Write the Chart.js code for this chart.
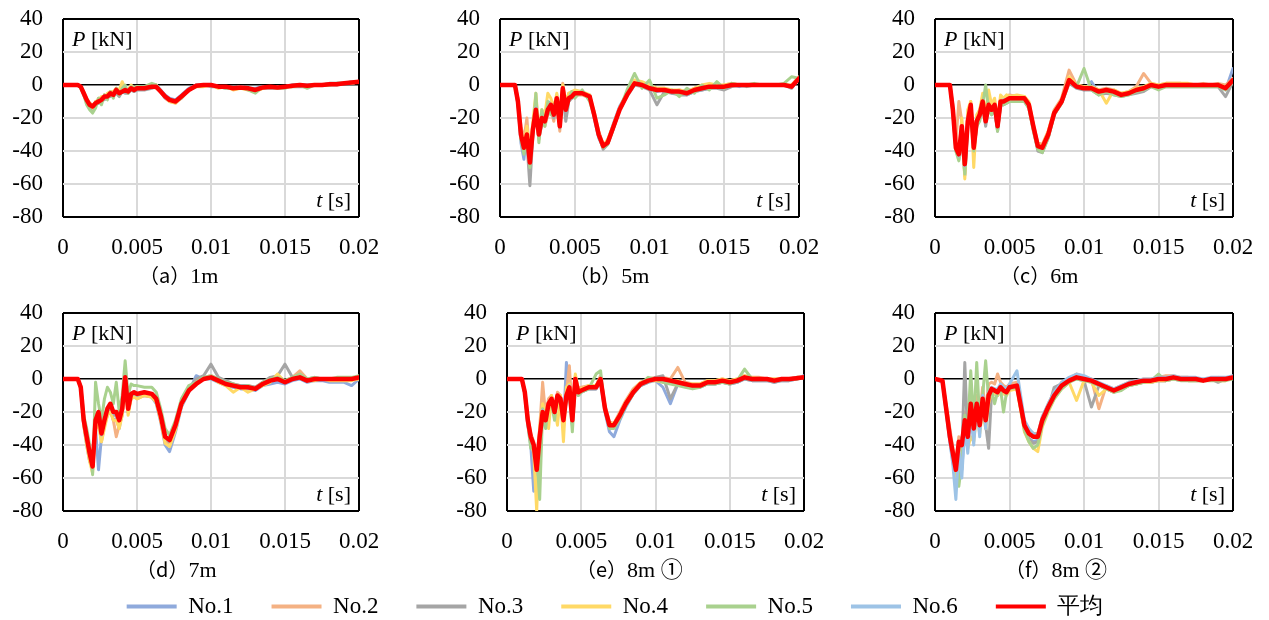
<!DOCTYPE html>
<html><head><meta charset="utf-8">
<script src="https://cdn.jsdelivr.net/npm/chart.js@4.4.1/dist/chart.umd.min.js"></script>
<style>
html,body{margin:0;padding:0;background:#fff;}
body{width:1269px;height:620px;position:relative;overflow:hidden;}
canvas{position:absolute;}
</style>
</head><body>
<script>
// ---------- data ----------
const T = [0,0.0005,0.001,0.0012,0.0014,0.0016,0.0018,0.002,0.0022,0.0024,0.0026,0.0028,0.003,0.0032,0.0034,0.0036,0.0038,0.004,0.0042,0.0044,0.0046,0.0048,0.005,0.0055,0.006,0.0063,0.0066,0.0069,0.0072,0.0076,0.008,0.0085,0.009,0.0095,0.01,0.0105,0.011,0.0115,0.012,0.0125,0.013,0.0135,0.014,0.0145,0.015,0.0155,0.016,0.0165,0.017,0.0175,0.018,0.0185,0.019,0.0195,0.02];
const seriesNames = ['No.1','No.2','No.3','No.4','No.5','No.6','平均'];
const seriesColors = ['#8faadc','#f4b183','#a5a5a5','#ffd966','#a9d18e','#9dc3e6','#ff0000'];
const xTickLabels = ['0','0.005','0.01','0.015','0.02'];
const yTickLabels = ['-80','-60','-40','-20','0','20','40'];
const panelLetters = ['a','b','c','d','e','f'];
const panelNames = ['1m','5m','6m','7m','8m ①','8m ②'];

// (a) 1m
const a1 = [0,0,0,-1,-6,-10,-13,-14,-10,-11,-8,-8,-6,-6,-5,-4,-6,-3,-4,-3,-3,-2,-2,-1,-1,0,-3,-6,-8,-9,-6,-2,0,0,0,-1,-1,-2,-1,-2,-2,-1,-1,-1,-1,0,0,0,0,0,0,1,1,1,2];
const a2 = [0,0,0,-1,-4,-8,-11,-12,-12,-8,-10,-6,-8,-4,-7,-2,-6,-3,-2,-5,-1,-3,-2,-2,-1,-2,-4,-8,-10,-11,-8,-3,0,0,0,-1,-1,-2,-2,-2,-3,-2,-1,-2,-1,-1,0,-1,0,0,1,1,1,2,2];
const a3 = [0,0,0,-1,-5,-9,-12,-15,-12,-11,-9,-9,-7,-7,-6,-5,-7,-4,-5,-5,-3,-4,-3,-3,-2,-1,-4,-7,-9,-10,-7,-3,-1,0,-1,-1,-2,-2,-2,-2,-3,-2,-2,-2,-1,-1,-1,-1,0,0,0,0,1,1,2];
const a4 = [0,0,0,-1,-5,-9,-11,-14,-10,-9,-7,-8,-5,-4,-4,-2,-3,2,-2,-3,0,-2,-1,-2,-1,0,-4,-7,-10,-11,-7,-3,-1,-1,0,-2,-1,-3,-2,-3,-4,-2,-1,-2,-1,-1,0,-1,0,0,0,1,1,1,2];
const a5 = [0,0,0,-2,-6,-12,-15,-17,-14,-8,-12,-6,-9,-4,-8,-2,-6,-2,0,-5,-1,-2,-1,-1,1,0,-4,-7,-9,-10,-8,-3,-1,0,0,-1,-2,-2,-1,-3,-5,-1,-1,-2,-2,0,0,-2,0,0,0,1,1,1,2];
const a6 = [0,0,0,-1,-5,-9,-12,-13,-11,-10,-9,-7,-7,-5,-6,-3,-5,-4,-3,-4,-2,-3,-2,-2,-1,-1,-4,-8,-9,-10,-7,-3,0,0,0,-1,-1,-2,-1,-2,-3,-1,-1,-1,-1,0,0,0,0,0,1,1,1,2,2];
const aAvg = [0,0,0,-1,-5,-9,-12,-13,-11,-10,-9,-7,-7,-5,-6,-3,-5,-4,-3,-4,-2,-3,-2,-2,-1,-1,-4,-7,-9,-10,-7,-3,-0.5,0,0,-1,-1,-2,-1.5,-2,-3,-1.5,-1,-1.5,-1,-0.5,0,-0.5,0,0,0.5,0.5,1,1.5,2];

// (b) 5m
const b1 = [0,0,0,-12,-35,-45,-28,-44,-25,-12,-28,-18,-20,-12,-10,-16,-6,-22,0,-12,-6,-5,-4,-5,-6,-20,-32,-38,-34,-23,-13,-5,2,0,-2,-4,-3,-5,-5,-6,-4,-3,-2,-1,-1,0,-1,0,0,0,0,0,0,-1,4];
const b2 = [0,0,0,-8,-25,-33,-20,-45,-25,-18,-33,-22,-25,-18,-15,-22,-10,-28,1,-18,-5,-8,-6,-6,-8,-16,-28,-36,-34,-24,-14,-5,2,1,-1,-2,-2,-4,-3,-4,-2,-1,0,-1,0,1,0,0,0,0,0,0,0,0,5];
const b3 = [0,0,0,-10,-32,-40,-35,-61,-30,-16,-32,-24,-22,-16,-14,-20,-10,-26,-4,-22,-10,-8,-6,-5,-7,-18,-30,-39,-36,-26,-15,-7,0,-1,-3,-12,-4,-5,-6,-6,-4,-3,-2,-2,-3,-1,0,-1,0,0,0,0,0,-2,4];
const b4 = [0,0,0,-9,-28,-36,-25,-40,-22,-5,-28,-15,-18,-5,-8,-14,-5,-20,0,-10,-5,-4,-3,-4,-6,-17,-29,-37,-33,-24,-14,-5,3,2,0,-2,-2,-3,-3,-4,-2,0,1,0,0,1,0,0,0,0,0,0,0,0,4];
const b5 = [0,0,0,-11,-33,-42,-30,-50,-30,-5,-35,-15,-25,-10,-18,-12,-15,-20,-5,-12,-8,-4,-8,-3,-10,-19,-31,-38,-36,-26,-15,-3,7,-2,3,-8,-6,-3,-7,-2,-5,0,-3,2,-2,1,0,0,1,0,0,0,1,5,4];
const b6 = [0,0,0,-10,-30,-38,-30,-47,-28,-14,-30,-20,-22,-14,-12,-18,-8,-24,-2,-15,-8,-7,-5,-5,-7,-18,-30,-37,-35,-25,-15,-6,1,0,-2,-3,-3,-4,-4,-5,-3,-2,-1,-1,-1,0,0,0,0,0,0,0,0,-1,4];
const bAvg = [0,0,0,-10,-30,-38,-30,-47,-27,-15,-30,-20,-22,-15,-12,-18,-8,-25,-2,-15,-8,-7,-5,-5,-7,-18,-30,-37,-35,-25,-15,-6,1,0,-2,-3,-3,-4,-4,-5,-3,-2,-1,-1,-1,0,0,0,0,0,0,0,0,-1,4];

// (c) 6m
const c1 = [0,0,0,-14,-36,-45,-28,-50,-20,-14,-40,-20,-20,-12,-20,-14,-13,-15,-27,-12,-12,-10,-9,-9,-9,-13,-26,-38,-39,-31,-18,-9,2,-1,-3,2,-5,-4,-5,-6,-5,-4,-2,0,-2,0,0,0,0,0,0,0,0,-3,10];
const c2 = [0,0,0,-12,-35,-10,-22,-45,-20,-10,-35,-20,-15,-8,-20,-10,-12,-10,-22,-8,-8,-7,-6,-7,-7,-11,-24,-35,-36,-28,-15,-8,9,0,-1,-1,-3,-2,-3,-5,-4,-1,7,1,0,1,1,1,0,0,1,0,1,0,4];
const c3 = [0,0,0,-16,-40,-44,-30,-55,-25,-14,-40,-25,-20,-12,-25,-14,-18,-14,-28,-12,-12,-11,-10,-10,-10,-14,-27,-40,-41,-32,-18,-11,1,-2,-3,-3,-6,-5,-6,-7,-6,-5,-4,-1,-2,-1,-1,-1,-1,-1,-1,-1,-1,-7,2];
const c4 = [0,0,0,-15,-39,-43,-20,-57,-15,-10,-50,-18,-15,-5,-18,-3,-12,-8,-22,-6,-8,-6,-7,-6,-7,-10,-24,-36,-37,-28,-16,-9,5,0,-1,-1,-3,-11,-3,-5,-4,-2,-1,1,0,1,1,1,1,0,0,0,0,-1,3];
const c5 = [0,0,0,-17,-40,-46,-30,-54,-24,-14,-40,-25,-22,-12,0,-15,-18,-14,-28,-12,-12,-11,-10,-10,-10,-14,-28,-39,-41,-32,-18,-11,2,-1,10,-3,-6,-4,-6,-7,-6,-4,-3,-1,-3,-1,-1,-1,-1,-1,-1,-1,-1,-3,2];
const c6 = [0,0,0,-15,-37,-43,-26,-49,-21,-12,-37,-22,-17,-10,-21,-12,-14,-12,-24,-10,-9,-9,-8,-8,-8,-12,-25,-37,-38,-30,-17,-10,3,-1,-2,-2,-4,-3,-4,-6,-5,-3,-2,0,-1,0,0,0,0,0,0,0,0,-2,3];
const cAvg = [0,0,0,-15,-38,-42,-25,-48,-22,-12,-38,-22,-18,-10,-22,-12,-15,-12,-25,-10,-10,-9,-8,-8,-8,-12,-25,-37,-38,-30,-17,-10,3,-1,-2,-2,-4,-3,-4,-6,-5,-3,-2,0,-1,0,0,0,0,0,0,0,0,-2,3];

// (d) 7m
const d1 = [0,0,0,-6,-28,-40,-50,-52,-30,-55,-35,-28,-20,-18,-25,-24,-30,-20,-2,-20,-11,-10,-11,-10,-11,-15,-26,-40,-44,-32,-17,-8,2,0,0,-2,-4,-5,-6,-6,-7,-4,-3,-2,-3,-1,0,-2,-1,-1,-2,-2,-2,-4,0];
const d2 = [0,0,0,-5,-27,-38,-48,-55,-28,-22,-38,-28,-22,-18,-25,-35,-28,-22,-2,-20,-12,-10,-12,-10,-11,-14,-25,-38,-40,-30,-16,-6,-2,1,2,0,-2,-3,-4,-4,-5,-2,0,2,-1,1,5,0,0,0,0,0,0,0,1];
const d3 = [0,0,0,-5,-26,-37,-47,-54,-27,-22,-35,-27,-20,-16,-22,-22,-27,-20,-1,-20,-10,-9,-10,-9,-10,-13,-23,-36,-38,-29,-15,-6,0,2,9,1,-1,-3,-4,-4,-5,-2,1,2,9,1,2,0,1,0,0,0,0,0,1];
const d4 = [0,0,0,-6,-28,-40,-50,-57,-30,-28,-38,-30,-22,-20,-25,-25,-30,-22,-3,-22,-12,-11,-12,-10,-11,-14,-25,-39,-41,-31,-16,-7,-2,0,1,-2,-4,-8,-5,-8,-6,-4,-2,3,-2,0,1,-1,-1,0,-1,-1,-1,-1,0];
const d5 = [0,0,0,-4,-22,-30,-40,-58,-2,-15,-25,-12,-5,-8,-15,-2,-20,-10,11,-10,-3,-4,-4,-5,-5,-8,-18,-30,-34,-25,-12,-4,-2,1,2,0,-2,-3,-5,-4,-6,-2,0,1,-1,1,3,0,1,0,0,1,1,1,2];
const d6 = [0,0,0,-5,-26,-36,-46,-52,-26,-21,-34,-25,-19,-15,-21,-20,-24,-18,0,-17,-9,-8,-9,-8,-9,-12,-22,-35,-37,-28,-15,-7,-3,0,1,-1,-3,-4,-5,-5,-6,-3,-1,0,-2,0,1,-1,0,0,0,0,0,0,1];
const dAvg = [0,0,0,-5,-25,-35,-45,-53,-25,-20,-33,-25,-18,-15,-20,-20,-25,-18,1,-18,-9,-8,-9,-8,-9,-12,-22,-35,-37,-28,-15,-7,-3,0,1,-1,-3,-4,-5,-5,-6,-3,-1,0,-2,0,1,-1,0,0,0,0,0,0,1];

// (e) 8m ①
const e1 = [0,0,0,-9,-28,-40,-68,-60,-40,-25,-28,-18,-15,-22,-12,-15,-30,10,-8,-28,-2,-10,-8,-6,-6,-2,-20,-32,-35,-25,-17,-9,-4,-2,-1,-5,-15,-3,-4,-5,-5,-3,-3,-2,-3,-2,0,-1,-1,-1,-2,-1,-1,0,2];
const e2 = [0,0,0,-7,-22,-33,-38,-50,-30,-2,-22,-12,-10,-18,-8,-10,-22,-8,8,-22,2,-6,-5,-4,-4,2,-16,-26,-27,-20,-13,-6,-2,0,1,1,0,7,-2,-3,-3,-1,-1,0,-1,0,2,1,1,0,0,0,0,1,1];
const e3 = [0,0,0,-8,-26,-36,-42,-58,-37,-22,-27,-17,-14,-22,-12,-14,-27,-12,-7,-27,-2,-9,-8,-6,-6,-1,-19,-29,-29,-23,-16,-9,-4,-2,1,2,-12,-3,-4,-5,-5,-3,-3,-2,-3,-2,0,-1,-1,-1,-2,-1,-1,0,1];
const e4 = [0,0,0,-8,-25,-38,-45,-80,-30,-15,-22,-30,-10,-18,-28,-10,-38,-5,-3,-20,3,-6,-6,-4,-4,1,-17,-27,-27,-21,-14,-7,-2,-1,-1,-2,-2,-1,-3,-3,-3,-1,-1,0,-1,0,2,1,0,0,0,0,0,1,1];
const e5 = [0,0,0,-9,-27,-42,-40,-45,-73,-18,-30,-15,-15,-25,-10,-15,-25,-12,-8,-32,-3,-10,-8,-6,3,5,-19,-30,-30,-24,-16,-9,-3,1,0,-2,-3,-4,-5,-6,-5,-3,-3,-2,-3,-1,6,0,0,0,-1,0,0,0,1];
const e6 = [0,0,0,-8,-25,-36,-41,-54,-34,-19,-24,-15,-12,-19,-10,-12,-24,-10,-4,-24,0,-8,-7,-5,-5,0,-18,-28,-28,-22,-15,-8,-3,-1,0,0,-1,-2,-3,-4,-4,-2,-2,-1,-2,-1,1,0,0,0,-1,0,0,1,1];
const eAvg = [0,0,0,-8,-25,-35,-40,-55,-35,-20,-25,-15,-12,-20,-10,-12,-25,-10,-5,-25,0,-8,-7,-5,-5,0,-18,-28,-28,-22,-15,-8,-3,-1,0,0,-1,-2,-3,-4,-4,-2,-2,-1,-2,-1,1,0,0,0,-1,0,0,0.5,1];

// (f) 8m ②
const f1 = [0,-2,-38,-50,-62,-45,-55,-30,-40,-20,-35,-18,-30,-15,-28,-12,-8,-9,-10,-7,-8,-9,-6,-5,-30,-36,-38,-37,-27,-18,-11,-5,-2,1,0,-2,-4,-6,-8,-6,-4,-3,-2,-2,-1,-1,0,0,-1,-1,-1,0,-1,0,1];
const f2 = [0,-1,-30,-42,-50,-35,-38,-20,-30,-8,-25,-10,-22,-5,-20,-3,-2,-3,3,-2,-4,-5,-3,-2,-26,-31,-33,-33,-23,-15,-8,-2,0,3,1,0,-18,-4,-6,-4,-2,-1,0,0,1,2,2,1,1,0,0,0,1,0,1];
const f3 = [0,-1,-33,-45,-57,-40,-45,10,-38,-18,-32,-17,-30,-14,-28,-42,-8,-8,-10,-6,-8,-9,-6,-5,-30,-36,-39,-38,-27,-18,-5,-3,0,0,-1,-17,-4,-6,-8,-6,-4,-3,-2,-2,-1,-1,0,-1,0,0,-1,0,-2,0,1];
const f4 = [0,-1,-34,-48,-60,-42,-45,-28,-42,-35,-38,-20,-33,-18,-30,-15,-8,-9,-10,-7,-9,-10,-7,-6,-32,-38,-42,-44,-29,-20,-12,-6,-2,-13,-1,-2,-10,-6,-8,-6,-4,-3,-2,-2,-1,-1,0,0,-1,-1,-1,0,-1,-1,1];
const f5 = [0,-1,-36,-46,-52,-65,-50,-22,-30,5,-28,10,-25,-10,11,-12,-7,-15,-8,-6,-20,-8,-6,-5,-31,-38,-42,-40,-28,-19,-12,-6,-2,0,-1,-2,-4,-6,-8,-7,-4,-3,-2,-1,3,-1,0,-1,-1,-1,-1,-1,-1,-1,0];
const f6 = [0,-1,-38,-52,-73,-42,-60,-28,-45,-20,-40,-15,-35,-10,-30,-8,-5,-6,-6,-3,-5,-6,-3,5,-25,-30,-33,-34,-23,-15,-8,-2,1,3,2,0,-2,-4,-6,-4,-2,-1,0,0,1,1,2,1,1,1,0,1,1,1,2];
const fAvg = [0,-1,-35,-45,-55,-38,-40,-25,-35,-15,-30,-15,-28,-12,-25,-10,-6,-7,-8,-5,-7,-8,-5,-4,-28,-33,-35,-35,-25,-17,-10,-4,-1,1,0,-1,-3,-5,-7,-5,-3,-2,-1,-1,0,0,1,0,0,0,-1,0,0,0,1];

const panelSeries = [
  [a1,a2,a3,a4,a5,a6,aAvg],
  [b1,b2,b3,b4,b5,b6,bAvg],
  [c1,c2,c3,c4,c5,c6,cAvg],
  [d1,d2,d3,d4,d5,d6,dAvg],
  [e1,e2,e3,e4,e5,e6,eAvg],
  [f1,f2,f3,f4,f5,f6,fAvg]
];
panelSeries.forEach((ps, k) => ps.forEach((arr, i) => {
  if (arr.length !== T.length) throw new Error('panel ' + k + ' series ' + i + ' length ' + arr.length);
}));

// ---------- layout (page pixels) ----------
const panelsLayout = [
  {left:63,  right:359,  top:19,  bottom:217, titleLeft:139},
  {left:500, right:799,  top:19,  bottom:217, titleLeft:569},
  {left:935, right:1233, top:19,  bottom:217, titleLeft:1000},
  {left:63,  right:359,  top:313, bottom:511, titleLeft:136},
  {left:507, right:804,  top:313, bottom:511, titleLeft:576},
  {left:935, right:1233, top:313, bottom:511, titleLeft:1005}
];
const PAD_L = 70, PAD_T = 38, PAD_R = 42, PAD_B = 80;
const SERIF = "'Liberation Serif', 'Times New Roman', serif";
const TICK_SIZE = 23;

Chart.defaults.font.family = SERIF;
Chart.defaults.font.size = TICK_SIZE;
Chart.defaults.color = '#000';

const near = (a, b) => Math.abs(a - b) < 1e-9;

const panelText = {
  id: 'panelText',
  afterDraw(chart, args, o) {
    const ctx = chart.ctx, ca = chart.chartArea;
    ctx.save();
    ctx.fillStyle = '#000';
    ctx.textBaseline = 'alphabetic';
    ctx.textAlign = 'left';
    // P [kN]
    let x = ca.left + 9;
    const yb = ca.top + 27;
    ctx.font = "italic 22px " + SERIF;
    ctx.fillText('P', x, yb);
    x += ctx.measureText('P').width;
    ctx.font = "22px " + SERIF;
    ctx.fillText(' [kN]', x, yb);
    // t [s]
    ctx.font = "22px " + SERIF;
    const w2 = ctx.measureText(' [s]').width;
    ctx.font = "italic 22px " + SERIF;
    const w1 = ctx.measureText('t').width;
    const xr = ca.right - 8 - w2 - w1;
    const yb2 = ca.bottom - 10;
    ctx.fillText('t', xr, yb2);
    ctx.font = "22px " + SERIF;
    ctx.fillText(' [s]', xr + w1, yb2);
    // panel caption
    let tx = o.titleX;
    const ty = ca.bottom + 66;
    ctx.font = "20px 'Noto Sans CJK JP'";
    const p1 = '（' + o.letter + '）';
    ctx.fillText(p1, tx, ty);
    tx += ctx.measureText(p1).width;
    ctx.font = "22px 'Liberation Serif', 'Noto Sans CJK JP', serif";
    ctx.fillText(o.name, tx, ty);
    ctx.restore();
  }
};

panelsLayout.forEach((p, k) => {
  const plotW = p.right - p.left, plotH = p.bottom - p.top;
  const W = plotW + PAD_L + PAD_R, H = plotH + PAD_T + PAD_B;
  const cv = document.createElement('canvas');
  cv.width = W; cv.height = H;
  cv.style.left = (p.left - PAD_L) + 'px';
  cv.style.top = (p.top - PAD_T) + 'px';
  cv.style.width = W + 'px'; cv.style.height = H + 'px';
  document.body.appendChild(cv);

  const datasets = panelSeries[k].map((vals, i) => ({
    label: seriesNames[i],
    data: T.map((t, j) => ({x: t, y: vals[j]})),
    borderColor: seriesColors[i],
    backgroundColor: seriesColors[i],
    borderWidth: i === 6 ? 4.5 : 3,
    pointRadius: 0,
    tension: 0,
    fill: false,
    borderJoinStyle: 'round',
    borderCapStyle: 'round',
    order: i === 6 ? 0 : 6 - i
  }));

  new Chart(cv, {
    type: 'line',
    data: {datasets},
    options: {
      responsive: false,
      animation: false,
      devicePixelRatio: 1,
      events: [],
      layout: {padding: {left: 0, top: PAD_T, right: PAD_R, bottom: 0}},
      plugins: {
        legend: {display: false},
        tooltip: {enabled: false},
        panelText: {letter: panelLetters[k], name: panelNames[k], titleX: p.titleLeft - (p.left - PAD_L)}
      },
      scales: {
        x: {
          type: 'linear', min: 0, max: 0.02,
          afterFit(s) { s.height = PAD_B; },
          border: {display: false},
          grid: {
            drawTicks: false,
            color: c => (c.tick && (near(c.tick.value, 0) || near(c.tick.value, 0.02))) ? '#000' : '#d9d9d9',
            lineWidth: 2
          },
          ticks: {
            stepSize: 0.005, padding: 17, maxRotation: 0, autoSkip: false,
            font: {size: TICK_SIZE, family: SERIF}, color: '#000',
            callback: (v, i) => xTickLabels[i]
          }
        },
        y: {
          min: -80, max: 40,
          afterFit(s) { s.width = PAD_L; },
          border: {display: false},
          grid: {
            drawTicks: false,
            color: c => {
              if (!c.tick) return '#d9d9d9';
              const v = c.tick.value;
              return (v === 0 || v === 40 || v === -80) ? '#000' : '#d9d9d9';
            },
            lineWidth: c => {
              if (!c.tick) return 2;
              return c.tick.value === 0 ? 1.5 : 2;
            }
          },
          ticks: {
            stepSize: 20, padding: 20,
            font: {size: TICK_SIZE, family: SERIF}, color: '#000',
            callback: (v, i) => yTickLabels[i]
          }
        }
      }
    },
    plugins: [panelText]
  });
});

// ---------- legend ----------
const LG_H = 300;
const lg = document.createElement('canvas');
lg.width = 1230; lg.height = LG_H;
lg.style.left = '0px'; lg.style.top = '557px';
lg.style.width = '1230px'; lg.style.height = LG_H + 'px';
document.body.appendChild(lg);
new Chart(lg, {
  type: 'line',
  data: {datasets: seriesNames.map((n, i) => ({label: n, data: [], borderColor: seriesColors[i], backgroundColor: seriesColors[i], borderWidth: 0}))},
  options: {
    responsive: false, animation: false, devicePixelRatio: 1, events: [],
    layout: {padding: 0},
    scales: {x: {display: false}, y: {display: false}},
    plugins: {
      tooltip: {enabled: false},
      legend: {
        display: true, position: 'top', align: 'center',
        labels: {boxWidth: 50, boxHeight: 4, padding: 38, color: '#000', font: {size: 23, family: SERIF}}
      }
    }
  }
});
</script>
</body></html>
